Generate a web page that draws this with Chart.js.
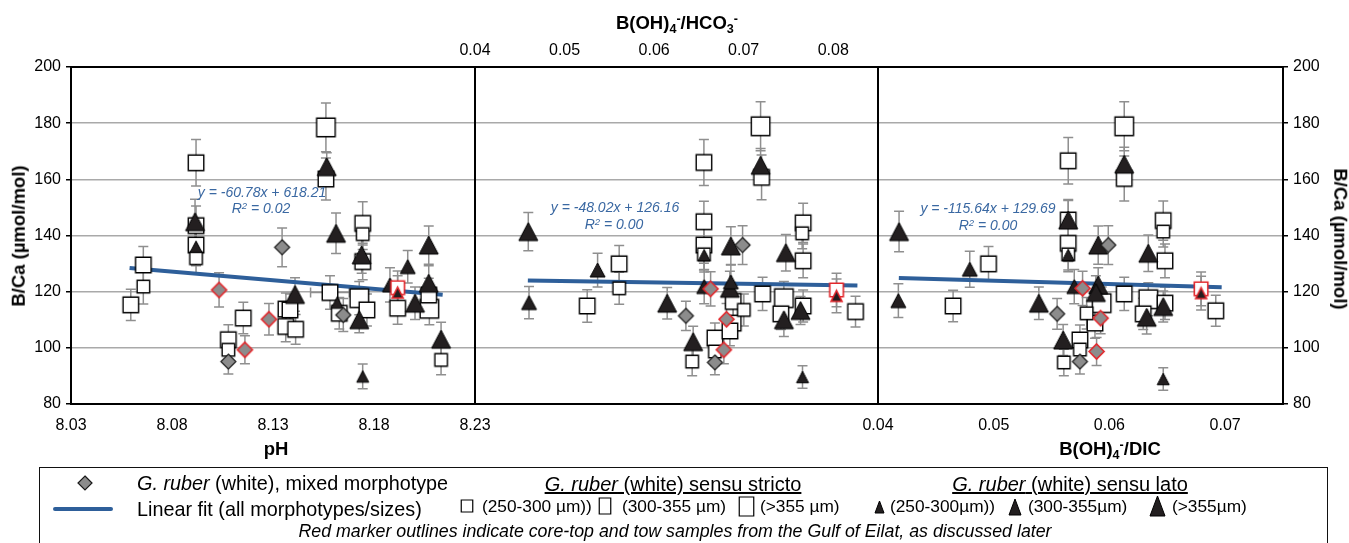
<!DOCTYPE html>
<html><head><meta charset="utf-8">
<script src="https://cdn.jsdelivr.net/npm/chart.js@4.4.0/dist/chart.umd.min.js"></script>
<style>
html,body{margin:0;padding:0;background:#fff;}
body{width:1349px;height:543px;overflow:hidden;position:relative;font-family:"Liberation Sans",Arial,Helvetica,sans-serif;color:#000;}
canvas.plot{position:absolute;left:0;top:0;}
.t{position:absolute;white-space:nowrap;line-height:1;}
.c{transform:translate(-50%,-50%);}
.l{transform:translate(0,-50%);}
.ttl{font-weight:bold;font-size:18.5px;}
.eq{font-style:italic;font-size:14px;color:#3a68a2;}
.lg{font-size:19.8px;}
.hd{font-size:20px;}
.sz{font-size:17.3px;}
sub,sup{font-size:0.68em;line-height:0;position:relative;vertical-align:baseline;}
sub{top:0.3em;} sup{top:-0.45em;}
#legend{position:absolute;left:39px;top:467px;width:1289px;height:90px;border:1.5px solid #111;box-sizing:border-box;}
.ic{position:absolute;}
</style></head><body>
<canvas id="c1" class="plot" width="1349" height="465"></canvas>
<canvas id="c2" class="plot" width="1349" height="465"></canvas>
<canvas id="c3" class="plot" width="1349" height="465"></canvas>

<div class="t c ttl" style="left:19px;top:236px;transform:translate(-50%,-50%) rotate(-90deg);">B/Ca (µmol/mol)</div>
<div class="t c ttl" style="left:1340px;top:239px;transform:translate(-50%,-50%) rotate(90deg);">B/Ca (µmol/mol)</div>
<div class="t c ttl" style="left:276px;top:449px;">pH</div>
<div class="t c ttl" style="left:1110px;top:449px;">B(OH)<sub>4</sub><sup>-</sup>/DIC</div>
<div class="t c ttl" style="left:677px;top:23px;">B(OH)<sub>4</sub><sup>-</sup>/HCO<sub>3</sub><sup>-</sup></div>

<div class="t c eq" style="left:262px;top:192px;">y = -60.78x + 618.21</div>
<div class="t c eq" style="left:261px;top:208px;">R<sup>2</sup> = 0.02</div>
<div class="t c eq" style="left:615px;top:207px;">y = -48.02x + 126.16</div>
<div class="t c eq" style="left:614px;top:224px;">R<sup>2</sup> = 0.00</div>
<div class="t c eq" style="left:988px;top:208px;">y = -115.64x + 129.69</div>
<div class="t c eq" style="left:988px;top:225px;">R<sup>2</sup> = 0.00</div>

<div id="legend"></div>
<div id="legendItems"></div>

<script>
// ---------------- tick labels ----------------
const yTicks = [80, 100, 120, 140, 160, 180, 200];
const phTicks = [8.03, 8.08, 8.13, 8.18, 8.23];
const hco3Ticks = [0.04, 0.05, 0.06, 0.07, 0.08];
const dicTicks = [0.04, 0.05, 0.06, 0.07];

// ---------------- panel 1 : pH  [x, B/Ca, err, (x err)] ----------------
const phMixed = [[8.1079, 95.1, 4.4], [8.1345, 135.8, 6.9], [8.1648, 111.7, 5.9]];
const phMixedRed = [[8.1033, 120.6, 6.1], [8.1161, 99.3, 5.0], [8.1280, 110.2, 5.6]];
const phSsSmall = [[8.0658, 121.8, 6.2], [8.0919, 131.9, 5.6], [8.1079, 99.3, 5.0], [8.1744, 140.5, 5.5], [8.2132, 95.7, 5.3]];
const phSsMed = [[8.0596, 115.3, 5.6], [8.0658, 129.5, 6.6], [8.0919, 165.9, 8.3], [8.0919, 143.5, 7.0], [8.0919, 136.6, 6.5],
  [8.1079, 102.9, 5.3], [8.1153, 110.6, 5.6], [8.1364, 113.8, 5.7], [8.1384, 113.5, 5.7], [8.1363, 107.6, 5.4],
  [8.1412, 106.6, 5.3], [8.1562, 160.1, 7.5], [8.1582, 119.7, 6.0, 0.0096], [8.1628, 112.3, 5.6], [8.1744, 144.3, 7.7],
  [8.1744, 130.7, 6.5], [8.1765, 113.5, 5.7], [8.1917, 114.1, 5.7], [8.2071, 118.8, 6.0]];
const phSsLarge = [[8.1562, 178.5, 8.7], [8.1727, 117.7, 5.9], [8.2074, 113.9, 5.7]];
const phSsRed = [[8.1917, 121.4, 6.0]];
const phSlSmall = [[8.0919, 136.0, 6.8], [8.1618, 116.1, 5.8], [8.1744, 89.8, 4.4]];
const phSlRed = [[8.1917, 119.7, 6.0]];
const phSlMed = [[8.1879, 122.4, 6.1], [8.1967, 128.9, 5.8]];
const phSlLarge = [[8.0914, 144.9, 8.0], [8.1409, 119.0, 6.0], [8.1566, 164.5, 5.0], [8.1612, 140.8, 7.2], [8.1739, 133.1, 6.5],
  [8.1727, 110.0, 4.6], [8.2003, 115.9, 5.8], [8.2071, 136.6, 6.8], [8.2071, 123.0, 6.2], [8.2132, 103.1, 6.0]];
const phFit = [[8.059, 128.4], [8.214, 118.9]];

// ---------------- panel 2 : B(OH)4-/HCO3- ----------------
const hco3Mixed = [[0.06355, 111.4, 5.2], [0.06679, 94.8, 4.4], [0.06988, 136.6, 6.9]];
const hco3MixedRed = [[0.06631, 121.0, 6.1], [0.06779, 99.3, 5.0], [0.06809, 110.2, 5.6]];
const hco3SsSmall = [[0.0561, 121.2, 5.7], [0.06556, 133.3, 5.6], [0.06425, 95.1, 5.0], [0.06679, 98.7, 5.0], [0.07653, 140.8, 5.5], [0.07002, 113.5, 5.7]];
const hco3SsMed = [[0.05253, 114.9, 5.8], [0.0561, 129.9, 6.5], [0.06556, 166.0, 8.2], [0.06556, 144.9, 7.3], [0.06556, 136.6, 6.5],
  [0.06679, 103.5, 5.3], [0.06883, 116.5, 5.8], [0.06883, 108.8, 5.4], [0.06846, 106.0, 5.3], [0.0720, 160.7, 8.0],
  [0.07211, 119.2, 5.9], [0.07415, 112.1, 5.6], [0.07664, 144.5, 7.0], [0.07664, 131.0, 6.0], [0.07664, 114.9, 5.7], [0.08249, 112.9, 5.5]];
const hco3SsLarge = [[0.07189, 178.9, 8.7], [0.07449, 117.7, 5.9]];
const hco3SsRed = [[0.08037, 120.6, 6.0]];
const hco3SlSmall = [[0.06559, 133.0, 6.0], [0.07657, 89.6, 4.0]];
const hco3SlRed = [[0.08037, 118.5, 6.0]];
const hco3SlMed = [[0.04603, 116.1, 5.7], [0.05369, 127.7, 6.0], [0.06559, 121.8, 6.1], [0.06857, 123.5, 6.2]];
const hco3SlLarge = [[0.04595, 141.4, 6.8], [0.06146, 115.9, 5.6], [0.06436, 102.2, 5.5], [0.06857, 136.3, 6.8], [0.06846, 121.2, 6.1],
  [0.07189, 165.0, 6.0], [0.07449, 110.0, 6.0], [0.07471, 133.9, 6.5], [0.07635, 113.3, 5.0]];
const hco3Fit = [[0.0459, 124.0], [0.0827, 122.2]];

// ---------------- panel 3 : B(OH)4-/DIC ----------------
const dicMixed = [[0.05548, 112.1, 5.5], [0.05745, 95.1, 4.4], [0.0599, 136.6, 6.9]];
const dicMixedRed = [[0.05768, 121.2, 6.1], [0.05889, 98.7, 5.0], [0.05924, 110.6, 5.6]];
const dicSsSmall = [[0.05606, 94.8, 4.7], [0.05745, 99.4, 5.0], [0.05644, 133.3, 5.6], [0.06465, 141.4, 5.5], [0.05803, 112.3, 5.6]];
const dicSsMed = [[0.04649, 114.9, 5.6], [0.04955, 129.9, 6.2], [0.05644, 166.6, 8.3], [0.05644, 145.5, 7.3], [0.05644, 137.2, 6.5],
  [0.05745, 102.8, 5.3], [0.05875, 108.8, 5.4], [0.06128, 160.3, 8.0], [0.06128, 119.2, 5.9], [0.06292, 112.1, 5.6],
  [0.06465, 145.3, 7.0], [0.0648, 131.0, 6.0], [0.0648, 115.9, 5.8], [0.06919, 113.2, 5.5]];
const dicSsLarge = [[0.06128, 178.9, 8.7], [0.06336, 117.3, 5.9], [0.05933, 115.9, 5.8]];
const dicSsRed = [[0.06792, 121.0, 6.0]];
const dicSlSmall = [[0.05644, 133.1, 6.0], [0.06465, 88.9, 4.0]];
const dicSlRed = [[0.06792, 119.5, 6.0]];
const dicSlMed = [[0.04176, 116.8, 6.0], [0.04793, 128.0, 6.4], [0.05696, 121.8, 6.1]];
const dicSlLarge = [[0.04182, 141.4, 7.2], [0.0539, 115.9, 5.8], [0.056, 102.8, 5.5], [0.05644, 145.5, 7.0], [0.05903, 136.6, 6.8],
  [0.05903, 122.4, 6.1], [0.05883, 119.7, 6.0], [0.06128, 165.4, 6.0], [0.06336, 133.7, 6.5], [0.06322, 110.9, 6.0], [0.06465, 114.7, 5.5]];
const dicFit = [[0.0418, 124.9], [0.0697, 121.6]];

// ---------------- marker images ----------------
function marker(shape, w, h, fill, stroke, lw) {
  const pad = Math.ceil(lw) + 1;
  const c = document.createElement('canvas');
  c.width = Math.ceil(w + 2 * pad); c.height = Math.ceil(h + 2 * pad);
  const x = c.getContext('2d');
  const cx = c.width / 2, cy = c.height / 2;
  x.beginPath();
  if (shape === 'square') x.rect(cx - w / 2, cy - h / 2, w, h);
  else if (shape === 'triangle') { x.moveTo(cx, cy - h / 2); x.lineTo(cx + w / 2, cy + h / 2); x.lineTo(cx - w / 2, cy + h / 2); x.closePath(); }
  else { x.moveTo(cx, cy - h / 2); x.lineTo(cx + w / 2, cy); x.lineTo(cx, cy + h / 2); x.lineTo(cx - w / 2, cy); x.closePath(); }
  x.fillStyle = fill; x.fill();
  x.lineJoin = 'miter'; x.lineWidth = lw; x.strokeStyle = stroke; x.stroke();
  return c;
}
const TRI = '#231f20', GREY = '#8c8c8c', RED = '#e3262b';
const mk = {
  mixedRed: marker('diamond', 15, 15, GREY, RED, 1.6),
  mixed: marker('diamond', 15, 15, GREY, '#1a1a1a', 1.2),
  slRed: marker('triangle', 11, 11, TRI, RED, 1.6),
  ssRed: marker('square', 13.5, 13.5, '#fff', RED, 1.6),
  slSmall: marker('triangle', 12, 11.5, TRI, '#000', 1),
  slMed: marker('triangle', 15, 14, TRI, '#000', 1),
  slLarge: marker('triangle', 19, 18, TRI, '#000', 1),
  ssSmall: marker('square', 12.5, 12.5, '#fff', '#000', 1.4),
  ssMed: marker('square', 15.5, 15.5, '#fff', '#000', 1.4),
  ssLarge: marker('square', 18.5, 18.5, '#fff', '#000', 1.4)
};

function ds(arr, style) {
  return {
    data: arr.map(p => ({ x: p[0], y: p[1], e: p[2], xe: p[3] || 0 })),
    pointStyle: style, pointRadius: style.width / 2, pointHoverRadius: style.width / 2,
    showLine: false, errorBars: true
  };
}
function fitDs(arr) {
  return {
    data: arr.map(p => ({ x: p[0], y: p[1] })), showLine: true, borderColor: '#2e5f9a', backgroundColor: '#2e5f9a',
    borderWidth: 4, pointRadius: 0, pointHoverRadius: 0, errorBars: false, borderCapStyle: 'butt'
  };
}

const errorBarsPlugin = {
  id: 'errorBars',
  beforeDatasetsDraw(chart) {
    const { ctx, scales: { x, y } } = chart;
    ctx.save();
    ctx.strokeStyle = '#8f8f8f'; ctx.lineWidth = 1.5;
    chart.data.datasets.forEach(d => {
      if (!d.errorBars) return;
      d.data.forEach(p => {
        const px = x.getPixelForValue(p.x), py = y.getPixelForValue(p.y);
        const yt = y.getPixelForValue(p.y + p.e), yb = y.getPixelForValue(p.y - p.e);
        ctx.beginPath();
        ctx.moveTo(px, yt); ctx.lineTo(px, yb);
        ctx.moveTo(px - 5, yt); ctx.lineTo(px + 5, yt);
        ctx.moveTo(px - 5, yb); ctx.lineTo(px + 5, yb);
        if (p.xe) {
          const xl = x.getPixelForValue(p.x - p.xe), xr = x.getPixelForValue(p.x + p.xe);
          ctx.moveTo(xl, py); ctx.lineTo(xr, py);
          ctx.moveTo(xl, py - 5); ctx.lineTo(xl, py + 5);
          ctx.moveTo(xr, py - 5); ctx.lineTo(xr, py + 5);
        }
        ctx.stroke();
      });
    });
    ctx.restore();
  }
};
const framePlugin = {
  id: 'frame',
  afterDatasetsDraw(chart) {
    const a = chart.chartArea, ctx = chart.ctx;
    ctx.save(); ctx.strokeStyle = '#000'; ctx.lineWidth = 2;
    ctx.strokeRect(a.left, a.top, a.right - a.left, a.bottom - a.top);
    ctx.restore();
  }
};

function panel(id, cfg) {
  const datasets = [
    ds(cfg.mixedRed, mk.mixedRed), ds(cfg.mixed, mk.mixed), ds(cfg.slRed, mk.slRed), ds(cfg.ssRed, mk.ssRed),
    ds(cfg.slSmall, mk.slSmall), ds(cfg.slMed, mk.slMed), ds(cfg.slLarge, mk.slLarge),
    ds(cfg.ssSmall, mk.ssSmall), ds(cfg.ssMed, mk.ssMed), ds(cfg.ssLarge, mk.ssLarge),
    fitDs(cfg.fit)
  ];
  const yShow = cfg.yPos !== 'none';
  return new Chart(document.getElementById(id), {
    type: 'scatter',
    data: { datasets },
    plugins: [errorBarsPlugin, framePlugin],
    options: {
      responsive: false, animation: false, devicePixelRatio: 1, events: [],
      layout: { padding: cfg.padding },
      plugins: { legend: { display: false }, tooltip: { enabled: false } },
      scales: {
        x: {
          type: 'linear', position: cfg.xPos, min: cfg.xMin, max: cfg.xMax,
          afterBuildTicks: s => { s.ticks = cfg.xTicks.map(v => ({ value: v })); },
          afterFit: s => { s.height = cfg.xPos === 'top' ? 67 : 61; },
          grid: { display: false }, border: { display: false },
          ticks: {
            autoSkip: false, maxRotation: 0, minRotation: 0, color: '#000',
            padding: cfg.xPos === 'top' ? -1 : 4,
            font: { family: '"Liberation Sans", Arial, sans-serif', size: 16 },
            callback: v => Number(v).toFixed(2)
          }
        },
        y: {
          type: 'linear', position: yShow ? cfg.yPos : 'left', min: 80, max: 200,
          afterBuildTicks: s => { s.ticks = yTicks.map(v => ({ value: v })); },
          afterFit: s => { s.width = cfg.yWidth; },
          border: { display: false },
          grid: { color: '#a9a9a9', lineWidth: 1.5, drawTicks: yShow, tickLength: 5, tickColor: '#000', tickWidth: 1.5 },
          ticks: {
            display: yShow, color: '#000', padding: 5,
            font: { family: '"Liberation Sans", Arial, sans-serif', size: 16 },
            callback: v => String(v)
          }
        }
      }
    }
  });
}

panel('c1', {
  mixed: phMixed, mixedRed: phMixedRed, ssSmall: phSsSmall, ssMed: phSsMed, ssLarge: phSsLarge, ssRed: phSsRed,
  slSmall: phSlSmall, slRed: phSlRed, slMed: phSlMed, slLarge: phSlLarge, fit: phFit,
  xMin: 8.03, xMax: 8.23, xTicks: phTicks, xPos: 'bottom', yPos: 'left', yWidth: 71,
  padding: { left: 0, right: 874, top: 67, bottom: 0 }
});
panel('c2', {
  mixed: hco3Mixed, mixedRed: hco3MixedRed, ssSmall: hco3SsSmall, ssMed: hco3SsMed, ssLarge: hco3SsLarge, ssRed: hco3SsRed,
  slSmall: hco3SlSmall, slRed: hco3SlRed, slMed: hco3SlMed, slLarge: hco3SlLarge, fit: hco3Fit,
  xMin: 0.04, xMax: 0.085, xTicks: hco3Ticks, xPos: 'top', yPos: 'none', yWidth: 0,
  padding: { left: 475, right: 471, top: 0, bottom: 61 }
});
panel('c3', {
  mixed: dicMixed, mixedRed: dicMixedRed, ssSmall: dicSsSmall, ssMed: dicSsMed, ssLarge: dicSsLarge, ssRed: dicSsRed,
  slSmall: dicSlSmall, slRed: dicSlRed, slMed: dicSlMed, slLarge: dicSlLarge, fit: dicFit,
  xMin: 0.04, xMax: 0.075, xTicks: dicTicks, xPos: 'bottom', yPos: 'right', yWidth: 66,
  padding: { left: 878, right: 0, top: 67, bottom: 0 }
});

// ---------------- legend ----------------
const L = document.getElementById('legendItems');
function icon(c, cx, cy) {
  c.className = 'ic';
  c.style.left = (cx - c.width / 2) + 'px';
  c.style.top = (cy - c.height / 2) + 'px';
  L.appendChild(c);
}
function text(html, x, y, cls, center) {
  const d = document.createElement('div');
  d.className = 't ' + (center ? 'c ' : 'l ') + cls;
  d.style.left = x + 'px'; d.style.top = y + 'px';
  d.innerHTML = html;
  L.appendChild(d);
}
icon(marker('diamond', 14, 14, GREY, '#1a1a1a', 1.2), 85, 483);
text('<i>G. ruber</i> (white), mixed morphotype', 137, 484, 'lg');
const line = document.createElement('div');
line.style.cssText = 'position:absolute;left:53px;top:507px;width:60px;height:4px;background:#2e5f9a;border-radius:2px;';
L.appendChild(line);
text('Linear fit (all morphotypes/sizes)', 137, 510, 'lg');
text('<span style="text-decoration:underline"><i>G. ruber</i> (white) sensu stricto</span>', 673, 484, 'hd', true);
text('<span style="text-decoration:underline"><i>G. ruber</i> (white) sensu lato</span>', 1070, 484, 'hd', true);
icon(marker('square', 11.5, 12, '#fff', '#000', 1.2), 467, 506);
text('(250-300 µm))', 482, 507, 'sz');
icon(marker('square', 11.5, 16, '#fff', '#000', 1.2), 605, 506);
text('(300-355 µm)', 622, 507, 'sz');
icon(marker('square', 14.5, 19, '#fff', '#000', 1.2), 746, 506);
text('(&gt;355 µm)', 760, 507, 'sz');
icon(marker('triangle', 9, 12, TRI, '#000', 1), 879, 507);
text('(250-300µm))', 890, 507, 'sz');
icon(marker('triangle', 12, 16, TRI, '#000', 1), 1015, 507);
text('(300-355µm)', 1028, 507, 'sz');
icon(marker('triangle', 15, 20, TRI, '#000', 1), 1157, 506);
text('(&gt;355µm)', 1172, 507, 'sz');
text('<i>Red marker outlines indicate core-top and tow samples from the Gulf of Eilat, as discussed later</i>', 675, 532, '', true);
L.lastChild.style.fontSize = '17.8px';
</script>
</body></html>
